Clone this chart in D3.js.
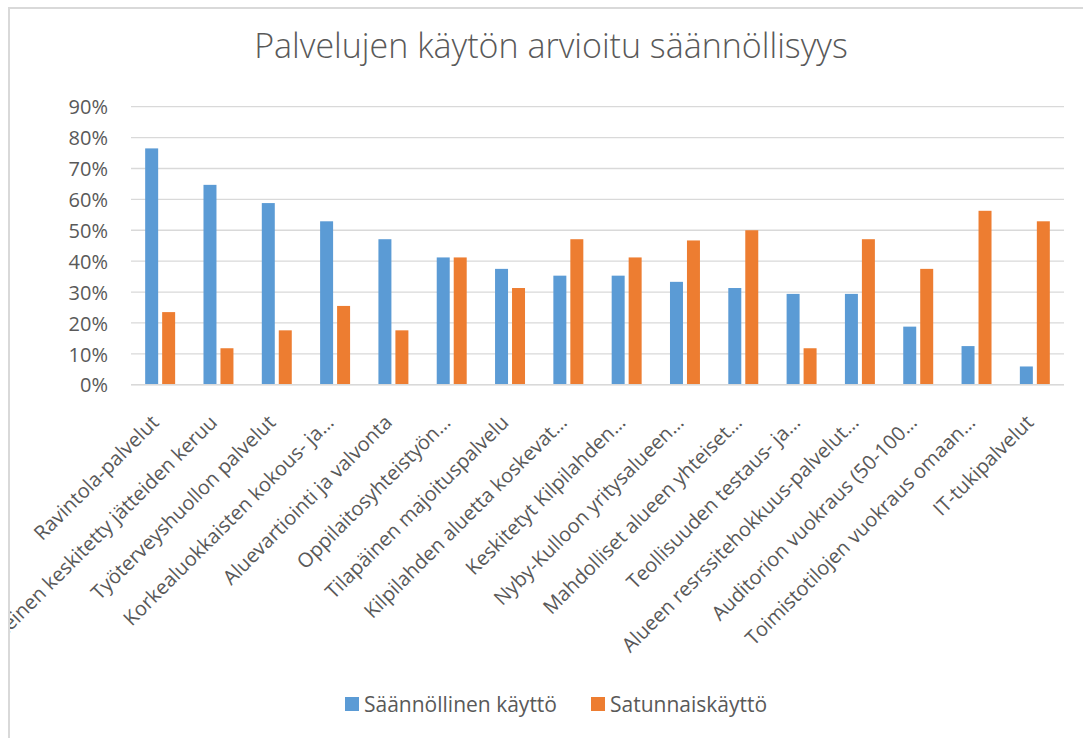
<!DOCTYPE html>
<html>
<head>
<meta charset="utf-8">
<script src="https://cdn.jsdelivr.net/npm/d3@7"></script>
<style>
  html, body { margin: 0; padding: 0; background: #fff; }
  svg { display: block; }
  text { font-family: "Open Sans", sans-serif; fill: #595959; }
</style>
</head>
<body>
<svg id="chart" width="1083" height="738"></svg>
<script>
const title = "Palvelujen käytön arvioitu säännöllisyys";
const categories = [
  "Ravintola-palvelut",
  "Yhteinen keskitetty jätteiden keruu",
  "Työterveyshuollon palvelut",
  "Korkealuokkaisten kokous- ja…",
  "Aluevartiointi ja valvonta",
  "Oppilaitosyhteistyön…",
  "Tilapäinen majoituspalvelu",
  "Kilpilahden aluetta koskevat…",
  "Keskitetyt Kilpilahden…",
  "Nyby-Kulloon yritysalueen…",
  "Mahdolliset alueen yhteiset…",
  "Teollisuuden testaus- ja…",
  "Alueen resrssitehokkuus-palvelut…",
  "Auditorion vuokraus (50-100…",
  "Toimistotilojen vuokraus omaan…",
  "IT-tukipalvelut"
];
const seriesNames = ["Säännöllinen käyttö", "Satunnaiskäyttö"];
const regular    = [0.765, 0.647, 0.588, 0.529, 0.471, 0.412, 0.375, 0.353, 0.353, 0.333, 0.313, 0.294, 0.294, 0.188, 0.125, 0.059];
const occasional = [0.235, 0.118, 0.176, 0.255, 0.176, 0.412, 0.313, 0.471, 0.412, 0.467, 0.500, 0.118, 0.471, 0.375, 0.563, 0.529];
const yTicks = [0, 0.1, 0.2, 0.3, 0.4, 0.5, 0.6, 0.7, 0.8, 0.9];
const colors = ["#5b9bd5", "#ed7d31"];

const svg = d3.select("#chart");
const W = 1083, H = 738;
const plot = { left: 131, right: 1064, top: 106.7, bottom: 384.7 };

svg.append("rect").attr("width", W).attr("height", H).attr("fill", "#fff");

// chart border (only top and left visible in reference)
svg.append("path")
  .attr("d", `M9,${H} L9,8 L${W},8`)
  .attr("fill", "none").attr("stroke", "#d9d9d9").attr("stroke-width", 2);

const y = d3.scaleLinear().domain([0, 0.9]).range([plot.bottom, plot.top]);
const x = d3.scaleBand().domain(categories).range([plot.left, plot.right])
  .paddingInner(0.486).paddingOuter(0.243);
const xSub = d3.scaleBand().domain(seriesNames).range([0, x.bandwidth()]).paddingInner(0.235);

// gridlines
svg.append("g").selectAll("line").data(yTicks).join("line")
  .attr("x1", plot.left).attr("x2", plot.right)
  .attr("y1", d => y(d)).attr("y2", d => y(d))
  .attr("stroke", "#d9d9d9").attr("stroke-width", 1.3);

// y axis labels
const yAxis = d3.axisLeft(y).tickValues(yTicks).tickFormat(d3.format(".0%")).tickSize(0).tickPadding(0);
const gy = svg.append("g").attr("transform", "translate(108,0)").call(yAxis);
gy.select(".domain").remove();
gy.selectAll("text").style("font-family", "'Open Sans', sans-serif").style("font-size", "20px")
  .attr("fill", "#595959").attr("dy", "0.36em");

// bars
const rows = categories.map((c, i) => ({ cat: c, vals: [regular[i], occasional[i]] }));
const groups = svg.append("g").selectAll("g").data(rows).join("g")
  .attr("transform", d => `translate(${x(d.cat)},0)`);
groups.selectAll("rect").data(d => d.vals.map((v, j) => ({ s: seriesNames[j], v, j }))).join("rect")
  .attr("x", d => xSub(d.s)).attr("width", xSub.bandwidth())
  .attr("y", d => y(d.v)).attr("height", d => y(0) - y(d.v))
  .attr("fill", d => colors[d.j]);

// x axis line
svg.append("line").attr("x1", plot.left).attr("x2", plot.right)
  .attr("y1", y(0)).attr("y2", y(0)).attr("stroke", "#d9d9d9").attr("stroke-width", 1.5);

// x labels (rotated -45), clipped to chart area as in the reference
svg.append("clipPath").attr("id", "clipChart").append("rect")
  .attr("x", 10).attr("y", 9).attr("width", W).attr("height", H);
const xl = svg.append("g").attr("clip-path", "url(#clipChart)");
xl.selectAll("text").data(categories).join("text")
  .attr("transform", d => `translate(${x(d) + x.bandwidth() / 2},${y(0) + 39}) rotate(-45)`)
  .attr("text-anchor", "end")
  .style("font-size", "20px")
  .text(d => d);

// title
svg.append("text").attr("x", 551).attr("y", 58).attr("text-anchor", "middle")
  .style("font-size", "34px").style("font-weight", 300).text(title);

// legend
const leg = svg.append("g");
const legX = [345, 591];
seriesNames.forEach((s, i) => {
  leg.append("rect").attr("x", legX[i]).attr("y", 697).attr("width", 14).attr("height", 14).attr("fill", colors[i]);
  leg.append("text").attr("x", legX[i] + 19).attr("y", 711.5).style("font-size", "21px").text(s);
});
</script>
</body>
</html>
